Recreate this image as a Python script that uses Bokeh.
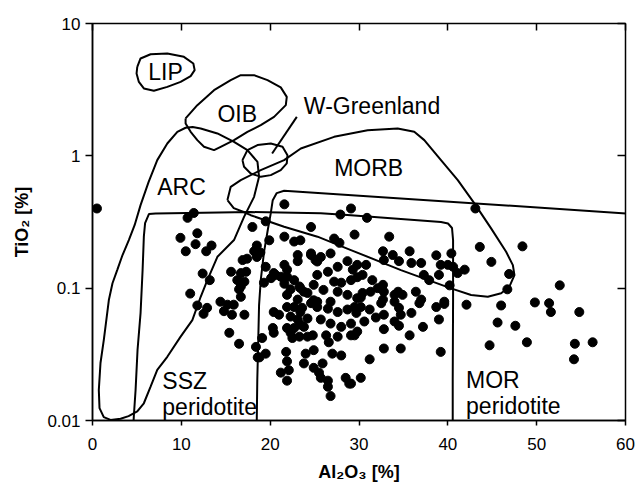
from bokeh.plotting import figure
from bokeh.models import LinearAxis, LogAxis, FixedTicker, Label, Range1d
from bokeh.embed import file_html
from bokeh.resources import INLINE

# ---------------- data ----------------
al2o3 = [0.5, 11.4, 10.7, 18.0, 11.8, 9.9, 11.6, 13.4, 10.5, 12.8, 16.9, 17.4, 18.5, 15.6, 16.7, 17.3,
         12.4, 16.3, 17.1, 16.7, 13.2, 16.5, 16.7, 11.0, 11.8, 12.9, 14.4, 15.2, 15.9, 12.5, 14.8, 15.7,
         17.1, 15.4, 16.5, 18.4, 18.6, 18.5, 18.2, 18.9, 19.9, 21.6, 22.7, 23.4, 24.6, 25.1, 19.5, 19.3,
         20.4, 21.2, 21.9, 21.6, 22.3, 23.4, 24.2, 24.9, 23.6, 20.4, 21.0, 20.3, 20.4, 21.9, 22.3, 23.1,
         22.7, 23.8, 24.2, 18.8, 19.5, 21.8, 21.9, 21.2, 21.9, 24.0, 23.8, 24.9, 25.5, 21.6, 29.1, 27.9,
         19.5, 24.6, 27.2, 27.8, 23.1, 24.6, 25.7, 26.8, 25.3, 23.1, 28.7, 29.8, 27.6, 21.6, 20.6, 21.9,
         20.1, 22.7, 23.3, 23.8, 25.3, 26.5, 27.2, 28.0, 29.1, 29.8, 24.9, 26.0, 27.6, 28.7, 29.8, 21.9,
         23.1, 25.3, 26.8, 30.9, 29.5, 33.4, 32.7, 33.8, 32.8, 34.5, 35.7, 35.9, 37.0, 38.7, 40.4, 39.2,
         40.0, 40.6, 37.3, 37.9, 39.0, 40.2, 30.8, 30.4, 29.3, 31.5, 32.7, 32.1, 32.8, 31.3, 34.4, 34.9,
         34.0, 36.4, 37.0, 39.6, 30.4, 30.2, 32.7, 30.2, 31.2, 32.5, 34.0, 34.5, 35.9, 36.8, 34.7, 34.0,
         34.5, 32.8, 31.9, 30.6, 29.7, 29.5, 38.7, 39.6, 39.0, 37.2, 35.7, 32.8, 32.8, 34.7, 31.2, 30.2,
         39.2, 29.1, 19.1, 21.9, 22.5, 23.3, 22.1, 24.9, 25.9, 25.7, 26.5, 26.6, 27.0, 28.0, 28.5, 28.9,
         26.8, 22.7, 23.4, 24.6, 25.3, 26.5, 27.6, 28.7, 29.5, 24.2, 25.7, 26.8, 28.0, 29.1, 23.4, 22.3,
         24.8, 26.3, 27.6, 29.1, 29.8, 26.5, 43.1, 43.6, 48.4, 44.9, 41.9, 41.1, 46.9, 46.7, 52.6, 42.1,
         46.0, 49.8, 51.4, 51.6, 54.8, 45.6, 47.6, 44.7, 48.9, 54.3, 54.2, 56.3]
tio2 = [0.40, 0.37, 0.34, 0.29, 0.26, 0.24, 0.215, 0.21, 0.19, 0.19, 0.163, 0.167, 0.172, 0.133, 0.13, 0.133,
        0.129, 0.115, 0.112, 0.103, 0.115, 0.098, 0.086, 0.091, 0.074, 0.071, 0.079, 0.075, 0.075, 0.064, 0.067, 0.063,
        0.063, 0.046, 0.038, 0.036, 0.030, 0.21, 0.19, 0.186, 0.23, 0.245, 0.225, 0.23, 0.183, 0.163, 0.145, 0.11,
        0.13, 0.122, 0.138, 0.108, 0.098, 0.10, 0.092, 0.081, 0.071, 0.066, 0.063, 0.050, 0.046, 0.072, 0.061, 0.058,
        0.050, 0.051, 0.043, 0.030, 0.032, 0.033, 0.028, 0.023, 0.020, 0.032, 0.027, 0.025, 0.023, 0.43, 0.40, 0.36,
        0.32, 0.29, 0.237, 0.22, 0.178, 0.178, 0.172, 0.183, 0.159, 0.16, 0.16, 0.15, 0.145, 0.150, 0.126, 0.122,
        0.119, 0.115, 0.103, 0.094, 0.126, 0.133, 0.112, 0.11, 0.115, 0.121, 0.106, 0.097, 0.094, 0.089, 0.084, 0.089,
        0.082, 0.079, 0.079, 0.34, 0.254, 0.245, 0.19, 0.178, 0.163, 0.16, 0.19, 0.155, 0.155, 0.177, 0.183, 0.15,
        0.15, 0.145, 0.126, 0.115, 0.126, 0.105, 0.150, 0.126, 0.138, 0.115, 0.106, 0.10, 0.094, 0.094, 0.094, 0.089,
        0.089, 0.094, 0.082, 0.079, 0.092, 0.085, 0.082, 0.072, 0.069, 0.077, 0.079, 0.071, 0.065, 0.077, 0.063, 0.056,
        0.052, 0.063, 0.060, 0.056, 0.065, 0.044, 0.072, 0.076, 0.058, 0.051, 0.044, 0.049, 0.035, 0.035, 0.029, 0.021,
        0.033, 0.019, 0.042, 0.050, 0.042, 0.043, 0.024, 0.034, 0.027, 0.021, 0.020, 0.039, 0.032, 0.031, 0.021, 0.019,
        0.0153, 0.072, 0.066, 0.077, 0.072, 0.070, 0.066, 0.069, 0.072, 0.059, 0.058, 0.054, 0.051, 0.054, 0.053, 0.046,
        0.044, 0.044, 0.043, 0.044, 0.047, 0.018, 0.40, 0.205, 0.207, 0.158, 0.138, 0.13, 0.128, 0.098, 0.105, 0.075,
        0.074, 0.078, 0.077, 0.066, 0.066, 0.055, 0.052, 0.037, 0.039, 0.038, 0.029, 0.039]

# field boundaries
lip_x = [5.04, 5.41, 6.54, 8.42, 10.29, 11.35, 11.50, 11.05, 9.92, 8.42, 6.91, 5.78, 5.22, 4.96, 5.04]
lip_y = [4.70, 5.44, 5.86, 5.93, 5.60, 4.99, 4.44, 4.00, 3.62, 3.32, 3.10, 3.23, 3.62, 4.19, 4.70]

oib_x = [10.48, 11.80, 13.68, 15.56, 16.69, 18.18, 19.70, 21.19, 21.87, 21.76, 20.44, 18.94, 17.44,
         15.93, 14.43, 13.68, 12.55, 11.80, 11.05, 10.48, 10.48]
oib_y = [1.917, 2.415, 3.134, 3.73, 4.07, 4.07, 3.73, 3.29, 2.79, 2.415, 1.97, 1.705, 1.518,
         1.314, 1.17, 1.104, 1.17, 1.314, 1.518, 1.757, 1.917]

wg_x = [16.88, 17.44, 18.57, 20.07, 21.39, 21.95, 21.87, 21.19, 20.07, 18.94, 17.81, 17.06, 16.88]
wg_y = [0.928, 1.104, 1.205, 1.241, 1.17, 1.012, 0.876, 0.78, 0.715, 0.694, 0.736, 0.826, 0.928]
wg_leader_x = [20.22, 23.0]
wg_leader_y = [1.042, 1.97]

arc_x = [2.03, 1.27, 0.79, 0.71, 0.90, 1.27, 1.84, 2.25, 2.78, 3.38, 4.09, 4.74, 5.41, 6.31, 7.29, 8.42,
         9.55, 10.48, 11.27, 12.18, 14.06, 15.93, 17.44, 18.57, 18.75, 18.19, 17.06, 15.93, 14.06, 12.93,
         12.18, 11.24, 9.92, 8.42, 7.29, 6.54, 5.78, 5.04, 4.06, 3.16, 2.03]
arc_y = [0.0101, 0.0106, 0.0124, 0.0170, 0.0272, 0.0405, 0.0813, 0.109, 0.137, 0.178, 0.231, 0.299,
         0.424, 0.633, 0.928, 1.24, 1.517, 1.63, 1.65, 1.61, 1.476, 1.276, 1.104, 0.901, 0.694, 0.49,
         0.346, 0.231, 0.1726, 0.115, 0.0861, 0.0574, 0.043, 0.0303, 0.0241, 0.018, 0.0135, 0.0117,
         0.0108, 0.0103, 0.0101]

morb_x = [15.19, 15.90, 17.02, 17.81, 21.57, 25.33, 29.09, 34.72, 40.36, 42.62, 44.50, 46.00, 46.93,
          47.50, 47.32, 46.56, 44.87, 42.99, 41.12, 39.23, 37.35, 36.22, 34.35, 30.97, 27.20, 23.45,
          21.57, 18.94, 16.69, 15.56, 15.19]
morb_y = [0.463, 0.403, 0.376, 0.356, 0.291, 0.245, 0.194, 0.137, 0.0997, 0.0887, 0.0861, 0.0914,
          0.1026, 0.1256, 0.1494, 0.1884, 0.283, 0.437, 0.655, 0.928, 1.314, 1.518, 1.61, 1.563, 1.392,
          1.137, 0.928, 0.780, 0.655, 0.583, 0.463]

ssz_x = [4.62, 4.66, 4.85, 5.07, 5.41, 5.64, 5.78, 5.92, 6.35, 7.10, 17.81, 25.70, 29.09, 34.72,
         39.23, 40.02, 40.47, 40.59, 40.59, 40.55, 40.55]
ssz_y = [0.0098, 0.0110, 0.0170, 0.0341, 0.0648, 0.137, 0.245, 0.310, 0.363, 0.367, 0.376, 0.369,
         0.356, 0.333, 0.316, 0.308, 0.285, 0.231, 0.0813, 0.0202, 0.0098]

mor_x = [18.49, 18.55, 18.66, 18.75, 18.94, 19.31, 19.73, 20.07, 20.29, 20.74, 21.57, 62.0]
mor_y = [0.0098, 0.0202, 0.0405, 0.0745, 0.115, 0.188, 0.275, 0.369, 0.462, 0.523, 0.544, 0.360]

labels = ["LIP", "OIB", "W-Greenland", "ARC", "MORB", "SSZ", "peridotite", "MOR", "peridotite"]
label_x = [6.28, 14.06, 23.79, 7.29, 27.2, 7.86, 7.86, 42.05, 42.05]
label_y = [4.29, 2.08, 2.38, 0.577, 0.808, 0.0198, 0.01257, 0.0203, 0.01294]

y_ticks = [0.01, 0.1, 1, 10]
y_tick_labels = ["0.01", "0.1", "1", "10"]
x_ticks = [0, 10, 20, 30, 40, 50, 60]

x_title = "Al\u2082O\u2083 [%]"
y_title = "TiO\u2082 [%]"

# ---------------- figure ----------------
FONT = "Liberation Sans"
p = figure(width=635, height=484, x_range=Range1d(0, 60), y_range=Range1d(0.01, 10),
           y_axis_type="log", output_backend="svg", toolbar_location=None,
           min_border_left=92, min_border_right=10, min_border_top=23, min_border_bottom=64)
p.background_fill_color = "white"
p.border_fill_color = "white"
p.outline_line_color = "black"
p.outline_line_width = 1.5
p.xgrid.visible = False
p.ygrid.visible = False

for ax in (p.xaxis[0], p.yaxis[0]):
    ax.axis_line_width = 1.5
    ax.major_tick_line_width = 1.5
    ax.minor_tick_line_color = None
    ax.major_label_text_font = FONT
    ax.major_label_text_font_size = "17px"
    ax.major_label_text_color = "black"
    ax.axis_label_text_font = FONT
    ax.axis_label_text_font_size = "18px"
    ax.axis_label_text_font_style = "bold"
    ax.axis_label_text_color = "black"

p.xaxis.ticker = FixedTicker(ticks=x_ticks)
p.xaxis.major_tick_in = 0
p.xaxis.major_tick_out = 5
p.xaxis.major_label_standoff = 12
p.xaxis.axis_label = x_title
p.xaxis.axis_label_standoff = 9

p.yaxis.ticker = FixedTicker(ticks=y_ticks)
p.yaxis.major_label_overrides = dict(zip(y_ticks, y_tick_labels))
p.yaxis.major_tick_in = 0
p.yaxis.major_tick_out = 7
p.yaxis.major_label_standoff = 5
p.yaxis.axis_label = y_title
p.yaxis.axis_label_standoff = 12

top = LinearAxis(ticker=FixedTicker(ticks=x_ticks), major_tick_in=7, major_tick_out=0,
                 major_tick_line_width=1.5, axis_line_color=None, minor_tick_line_color=None,
                 major_label_text_font_size="0px", major_label_text_alpha=0, major_label_standoff=0)
p.add_layout(top, "above")
right = LogAxis(ticker=FixedTicker(ticks=y_ticks), major_tick_in=8, major_tick_out=0,
                major_tick_line_width=1.5, axis_line_color=None, minor_tick_line_color=None,
                major_label_text_font_size="0px", major_label_text_alpha=0, major_label_standoff=0)
p.add_layout(right, "right")

# field outlines
for xs, ys in [(lip_x, lip_y), (oib_x, oib_y), (wg_x, wg_y), (wg_leader_x, wg_leader_y),
               (arc_x, arc_y), (morb_x, morb_y), (ssz_x, ssz_y), (mor_x, mor_y)]:
    p.line(xs, ys, line_color="black", line_width=2)

# samples
p.scatter(al2o3, tio2, size=9, fill_color="black", line_color="black")

for t, x, y in zip(labels, label_x, label_y):
    p.add_layout(Label(x=x, y=y, text=t, text_font=FONT, text_font_size="23px",
                       text_color="black", text_baseline="alphabetic", text_align="left"))

open("out.html", "w").write(file_html(p, INLINE))
